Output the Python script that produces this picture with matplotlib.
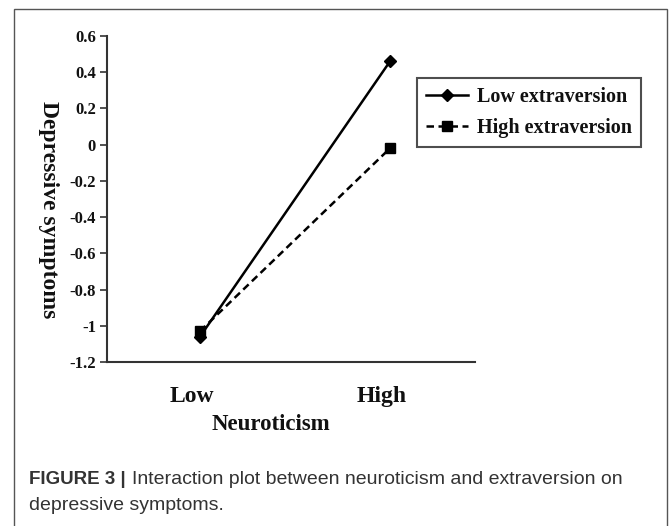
import matplotlib
matplotlib.use("Agg")
import matplotlib.pyplot as plt
from matplotlib.patches import Rectangle
import matplotlib.transforms as mtransforms

# ---- data ----
x_categories = ["Low", "High"]
low_extraversion = [-1.06, 0.46]
high_extraversion = [-1.03, -0.02]
series_labels = ["Low extraversion", "High extraversion"]
y_ticks = [0.6, 0.4, 0.2, 0.0, -0.2, -0.4, -0.6, -0.8, -1.0, -1.2]
y_tick_labels = ["0.6", "0.4", "0.2", "0", "-0.2", "-0.4", "-0.6", "-0.8", "-1", "-1.2"]
x_label = "Neuroticism"
y_label = "Depressive symptoms"
caption_bold = "FIGURE 3 |"
caption_rest = "Interaction plot between neuroticism and extraversion on"
caption_line2 = "depressive symptoms."

W, H = 669, 526
fig = plt.figure(figsize=(W / 100, H / 100), dpi=100)
fig.patch.set_facecolor("white")

serif = "Liberation Serif"
sans = "Liberation Sans"
ink = "#111111"

# outer frame
fig.patches.append(Rectangle((14 / W, -0.02), (667 - 14) / W, 1 - 9 / H + 0.02,
                             transform=fig.transFigure, fill=False,
                             edgecolor="#555555", linewidth=1.0))

ax_left, ax_right, ax_top, ax_bottom = 107, 475, 36, 362
ax = fig.add_axes([ax_left / W, 1 - ax_bottom / H,
                   (ax_right - ax_left) / W, (ax_bottom - ax_top) / H])
ax.set_facecolor("none")

xs = list(range(len(x_categories)))
ax.plot(xs, low_extraversion, color="black", linestyle="-", linewidth=1.8,
        marker="D", markersize=6, label=series_labels[0])
ax.plot(xs, high_extraversion, color="black", linestyle=(0, (3, 1.8)), linewidth=1.8,
        marker="s", markersize=7, label=series_labels[1])

x_px_per_unit = 190.0
ax.set_xlim((ax_left - 200) / x_px_per_unit, (ax_right - 200) / x_px_per_unit)
ax.set_ylim(-1.2, 0.6)

for s in ["top", "right"]:
    ax.spines[s].set_visible(False)
for s in ["left", "bottom"]:
    ax.spines[s].set_color("#333333")
    ax.spines[s].set_linewidth(1.5)

ax.set_yticks(y_ticks)
ax.set_yticklabels(y_tick_labels, fontfamily=serif, fontweight="bold",
                   fontsize=12, color=ink)
ax.tick_params(axis="y", direction="out", length=5, width=1.2, pad=3, color="#333333")

ax.set_xticks(xs)
ax.set_xticklabels(x_categories, fontfamily=serif, fontweight="bold",
                   fontsize=17, color=ink)
ax.tick_params(axis="x", length=0, pad=17)
offset = mtransforms.ScaledTranslation(-8 / 100, 0, fig.dpi_scale_trans)
for lbl in ax.get_xticklabels():
    lbl.set_transform(lbl.get_transform() + offset)

ax.set_xlabel(x_label, fontfamily=serif, fontweight="bold", fontsize=16.5, color=ink,
              va="center")
ax.xaxis.set_label_coords((271 - ax_left) / (ax_right - ax_left),
                          -(425 - ax_bottom) / (ax_bottom - ax_top))
ax.set_ylabel(y_label, fontfamily=serif, fontweight="bold", fontsize=17, color=ink,
              va="center", ha="center", rotation=-90)
ax.yaxis.set_label_coords(-(ax_left - 48) / (ax_right - ax_left),
                          (ax_bottom - 210) / (ax_bottom - ax_top))

leg = ax.legend(loc="upper left", bbox_to_anchor=(417 / W, 1 - 78 / H),
                bbox_transform=fig.transFigure, borderaxespad=0,
                prop={"family": serif, "weight": "bold", "size": 14.5},
                frameon=True, fancybox=False, edgecolor="#222222",
                handlelength=2.1, handletextpad=0.45, labelspacing=0.55,
                borderpad=0.45, numpoints=1)
leg.get_frame().set_linewidth(1.5)
for t in leg.get_texts():
    t.set_color(ink)

# caption
t1 = fig.text(29 / W, 1 - 480 / H, caption_bold, fontfamily=sans, fontweight="bold",
              fontsize=13.5, color="#333333", va="center", ha="left")
fig.canvas.draw()
bb = t1.get_window_extent()
fig.text(bb.x1 / W + 6 / W, 1 - 480 / H, caption_rest, fontfamily=sans,
         fontsize=14, color="#333333", va="center", ha="left")
fig.text(29 / W, 1 - 505 / H, caption_line2, fontfamily=sans,
         fontsize=14, color="#333333", va="center", ha="left")

fig.savefig("out.png", dpi=100, facecolor="white")
